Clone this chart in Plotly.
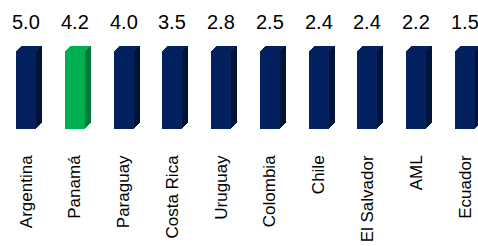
import plotly.graph_objects as go

# ---- data ----
countries = ["Argentina", "Panamá", "Paraguay", "Costa Rica", "Uruguay",
             "Colombia", "Chile", "El Salvador", "AML", "Ecuador"]
values = [5.0, 4.2, 4.0, 3.5, 2.8, 2.5, 2.4, 2.4, 2.2, 1.5]
highlight = "Panamá"
title_text = "(tasa prom. hoy)"

# ---- styling ----
W, H = 478, 246
FONT = "Arial, Liberation Sans, sans-serif"
NAVY, NAVY_SIDE = "#03215f", "#001338"
GREEN, GREEN_SIDE = "#00b050", "#00793a"
face = [GREEN if c == highlight else NAVY for c in countries]
side = [GREEN_SIDE if c == highlight else NAVY_SIDE for c in countries]

ppu = 48.78          # pixels per category
x0px = 26            # pixel centre of first category
xr = [-x0px / ppu, (W - x0px) / ppu]
bar_w = 20 / ppu
top_px, bot_px = 52, 129
Y_MAX = 1.4          # value axis cut below the smallest value
DEPTH = 6

layers = []
for k in range(DEPTH, 0, -1):
    layers.append((k, k, side))
    layers.append((k - 1, k, face))
layers.append((0, 0, face))

fig = go.Figure()
n_layers = len(layers)
for n, (dx, dy, cols) in enumerate(layers):
    idx = n + 1
    sfx = "" if idx == 1 else str(idx)
    front = (n == n_layers - 1)
    fig.add_trace(go.Bar(
        x=countries, y=values, width=bar_w,
        marker=dict(color=cols, line=dict(width=0)),
        xaxis="x" + sfx, yaxis="y" + sfx,
        hoverinfo="skip", showlegend=False,
    ))
    xa = dict(
        domain=[0, 1], range=[xr[0] - dx / ppu, xr[1] - dx / ppu],
        type="category", categoryorder="array", categoryarray=countries,
        anchor="y" + sfx, showgrid=False, zeroline=False, showline=False,
        ticks="", fixedrange=True,
    )
    if front:
        xa.update(visible=True, showticklabels=True, tickangle=-90,
                  tickfont=dict(family=FONT, size=17, color="black"),
                  ticklabelstandoff=22)
    else:
        xa.update(visible=False)
    ya = dict(
        domain=[1 - (bot_px - dy) / H, 1 - (top_px - dy) / H],
        range=[0, Y_MAX], anchor="x" + sfx, visible=False, fixedrange=True,
    )
    fig.layout["xaxis" + sfx] = xa
    fig.layout["yaxis" + sfx] = ya

front_x = "x" + str(n_layers)
annotations = [
    dict(x=c, y=1 - 22 / H, xref=front_x, yref="paper", text=f"{v:.1f}",
         showarrow=False, xanchor="center", yanchor="middle",
         font=dict(family=FONT, size=20, color="black"))
    for c, v in zip(countries, values)
]
annotations.append(dict(
    x=215 / W, y=1 + 12 / H, xref="paper", yref="paper",
    text="<b>" + title_text + "</b>", showarrow=False,
    xanchor="center", yanchor="middle",
    font=dict(family=FONT, size=19, color="black")))

fig.update_layout(
    width=W, height=H, margin=dict(l=0, r=0, t=0, b=0, autoexpand=False),
    paper_bgcolor="white", plot_bgcolor="rgba(0,0,0,0)",
    bargap=0, annotations=annotations, font=dict(family=FONT),
)
fig.write_html("out.html", config={"displayModeBar": False},
               post_script="document.body.style.margin='0';")
